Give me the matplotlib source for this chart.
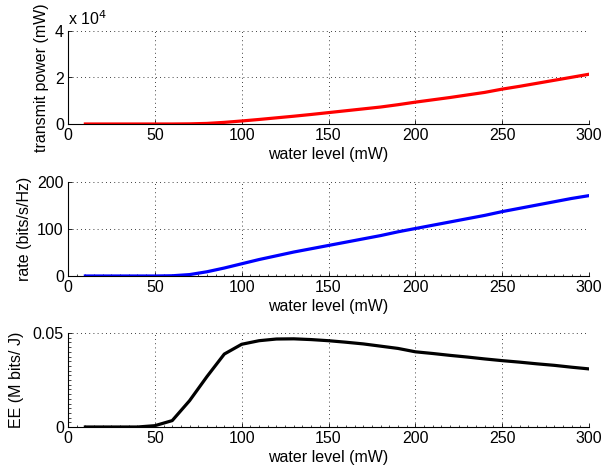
import matplotlib
matplotlib.use('Agg')
import matplotlib.pyplot as plt
from matplotlib.ticker import MultipleLocator
import numpy as np

plt.rcParams['font.family'] = ['Liberation Sans', 'DejaVu Sans']
plt.rcParams['font.size'] = 11.5

# water level (mW)
water_level = [10, 20, 30, 40, 50, 60, 70, 80, 90, 100,
               110, 120, 130, 140, 150, 160, 170, 180, 190, 200,
               210, 220, 230, 240, 250, 260, 270, 280, 290, 300]

# transmit power (mW)
tx_power = [0, 0, 0, 0, 0, 5, 60, 250, 700, 1300,
            1950, 2650, 3350, 4100, 4900, 5700, 6500, 7300, 8300, 9400,
            10400, 11400, 12500, 13600, 15000, 16200, 17500, 18800, 20100, 21400]

# rate (bits/s/Hz)
rate = [0, 0, 0, 0, 0, 0.5, 3, 9, 17, 26,
        35, 43, 51, 58, 65, 72, 79, 86, 94, 101,
        108, 115, 122, 129, 137, 144, 151, 158, 165, 171]

# energy efficiency (M bits/J)
ee = [0, 0, 0, 0, 0.0007, 0.0034, 0.014, 0.0268, 0.0388, 0.044,
      0.0459, 0.0468, 0.0469, 0.0465, 0.0459, 0.0451, 0.0442, 0.0430, 0.0418, 0.0400,
      0.0391, 0.0381, 0.0372, 0.0362, 0.0353, 0.0345, 0.0336, 0.0328, 0.0318, 0.0309]

xticks = [0, 50, 100, 150, 200, 250, 300]

fig = plt.figure(figsize=(6.01, 4.72), dpi=100)
left, width = 68 / 601, (589 - 68) / 601
ax1 = fig.add_axes([left, 1 - 124 / 472, width, 93 / 472])
ax2 = fig.add_axes([left, 1 - 276 / 472, width, 94 / 472])
ax3 = fig.add_axes([left, 1 - 427 / 472, width, 94 / 472])


def style(ax):
    ax.spines['top'].set_visible(False)
    ax.spines['right'].set_visible(False)
    ax.spines['left'].set_linewidth(0.8)
    ax.spines['bottom'].set_linewidth(0.8)
    ax.set_xlim(0, 300)
    ax.set_xticks(xticks)
    ax.tick_params(direction='in', length=3, width=0.6, pad=3)
    ax.tick_params(which='minor', direction='in', length=1.8, width=0.5)
    ax.grid(True, color='black', linestyle=(0, (1, 4)), linewidth=0.6)
    ax.set_xlabel('water level (mW)', labelpad=3)


ax1.plot(water_level, tx_power, color='red', lw=2.3)
style(ax1)
ax1.set_ylim(0, 40000)
ax1.set_yticks([0, 20000, 40000])
ax1.set_yticklabels(['0', '2', '4'])
ax1.set_ylabel('transmit power (mW)', labelpad=4)
ax1.text(0, 1.03, r'x 10$^4$', transform=ax1.transAxes, ha='left', va='bottom')

ax2.plot(water_level, rate, color='blue', lw=2.3)
style(ax2)
ax2.set_ylim(0, 200)
ax2.set_yticks([0, 100, 200])
ax2.xaxis.set_minor_locator(MultipleLocator(5))
ax2.set_ylabel('rate (bits/s/Hz)')

ax3.plot(water_level, ee, color='black', lw=2.3)
style(ax3)
ax3.set_ylim(0, 0.05)
ax3.set_yticks([0, 0.05])
ax3.set_yticklabels(['0', '0.05'])
ax3.xaxis.set_minor_locator(MultipleLocator(5))
ax3.yaxis.set_minor_locator(MultipleLocator(0.0025))
ax3.set_ylabel('EE (M bits/ J)', labelpad=6)

fig.savefig('out.png', dpi=100)
